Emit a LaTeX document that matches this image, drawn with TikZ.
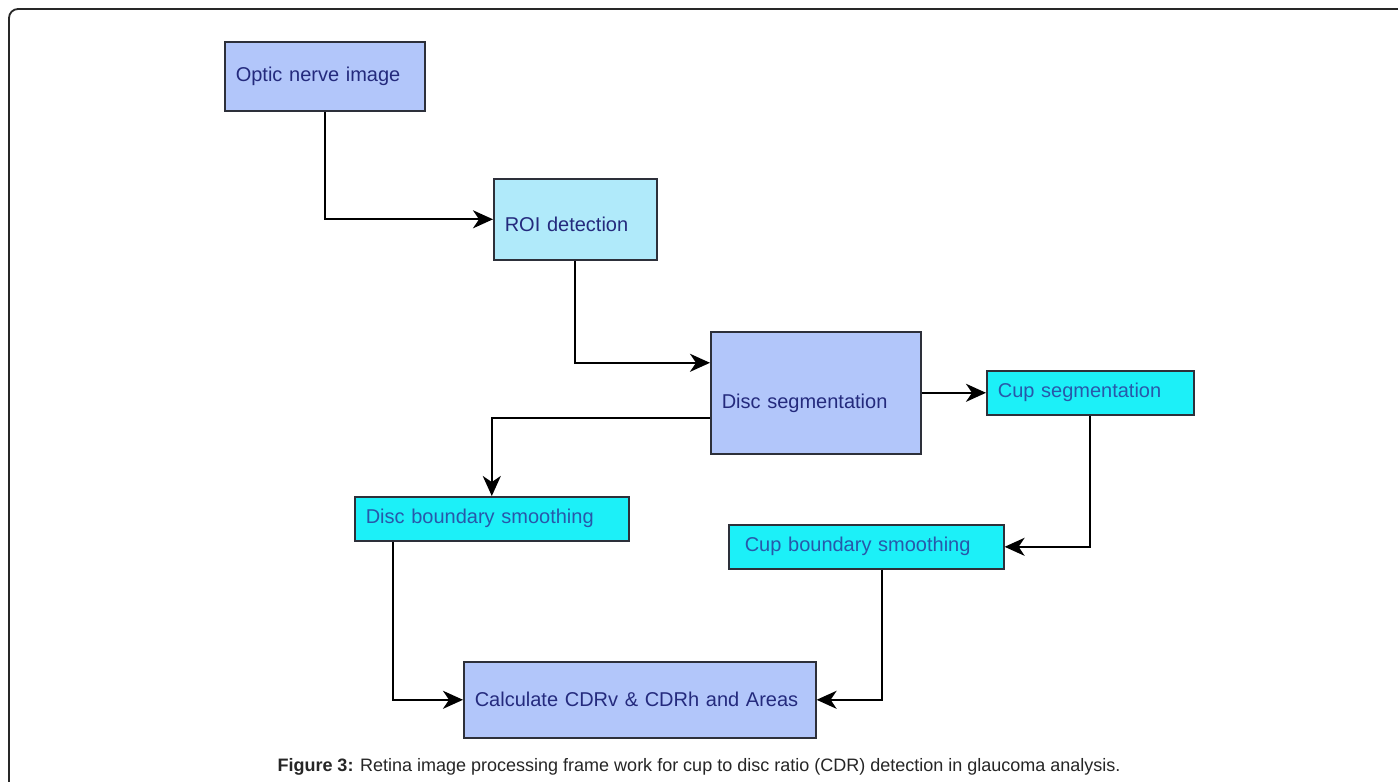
\documentclass[tikz,border=0pt]{standalone}
\usepackage{fontspec}
\setmainfont{Liberation Sans}
\usetikzlibrary{arrows.meta}
\definecolor{bluebox}{RGB}{178,198,250}
\definecolor{roibox}{RGB}{176,234,250}
\definecolor{cyanbox}{RGB}{28,240,248}
\definecolor{navytext}{RGB}{36,42,125}
\definecolor{cyantext}{RGB}{40,88,170}
\definecolor{boxline}{RGB}{45,48,58}
\definecolor{framecol}{RGB}{40,40,40}
\begin{document}
\begin{tikzpicture}[x=1pt,y=-1pt,
  box/.style={draw=boxline, line width=1.6pt, anchor=north west, inner xsep=10pt, inner ysep=0pt,
    align=left, font=\fontsize{20}{22}\selectfont},
  bluestyle/.style={box, fill=bluebox, text=navytext},
  roistyle/.style={box, fill=roibox, text=navytext},
  cyanstyle/.style={box, fill=cyanbox, text=cyantext},
  conn/.style={draw=black, line width=2pt, -{Stealth[length=20pt,width=18pt,inset=6pt]}},
  framestyle/.style={draw=framecol, line width=1.8pt, rounded corners=9pt}
]
\useasboundingbox (0,0) rectangle (1398,782);
\fill[white] (0,0) rectangle (1398,782);
\draw[framestyle] (9,782) -- (9,9) -- (1398,9);

\node[bluestyle, minimum width=200pt, minimum height=69pt, text width=178pt] (optic) at (224,41) {Optic nerve image};
\node[roistyle, minimum width=163pt, minimum height=81pt, text width=141pt, text height=24pt, text depth=0pt] (roi) at (493,178) {ROI detection};
\node[bluestyle, minimum width=210pt, minimum height=122pt, text width=188pt, text height=32pt, text depth=0pt] (disc) at (710,331) {Disc segmentation};
\node[cyanstyle, minimum width=207pt, minimum height=44pt, text width=185pt] (cupseg) at (986,370) {Cup segmentation};
\node[cyanstyle, minimum width=274pt, minimum height=44pt, text width=252pt] (dbs) at (354,496) {Disc boundary smoothing};
\node[cyanstyle, minimum width=275pt, minimum height=44pt, inner xsep=15pt, text width=243pt] (cbs) at (728,524) {Cup boundary smoothing};
\node[bluestyle, minimum width=352pt, minimum height=76pt, text width=330pt] (calc) at (463,661) {Calculate CDRv \& CDRh and Areas};

\draw[conn] (optic.south) |- (roi.west);
\draw[conn] (roi.south) |- ([yshift=30pt]disc.west);
\draw[conn] ([yshift=-25pt]disc.west) -| (dbs.north);
\draw[conn] (disc.east) -- (cupseg.west);
\draw[conn] (cupseg.south) |- (cbs.east);
\draw[conn] ([xshift=-99pt]dbs.south) |- (calc.west);
\draw[conn] ([xshift=16pt]cbs.south) |- (calc.east);

\node[font=\fontsize{18}{20}\selectfont, text=black!85] (caption) at (699,767)
  {\textbf{Figure 3:} Retina image processing frame work for cup to disc ratio (CDR) detection in glaucoma analysis.};
\end{tikzpicture}
\end{document}
